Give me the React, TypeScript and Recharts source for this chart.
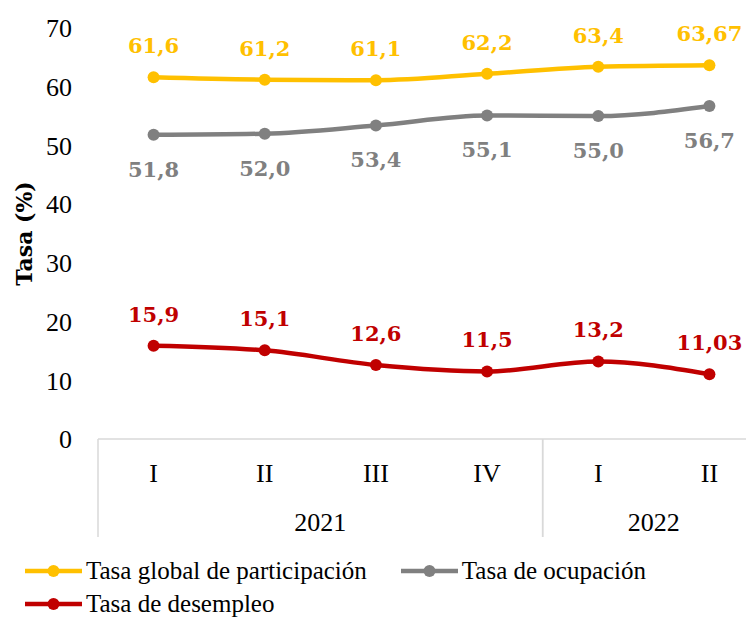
import React from 'react';
import { LineChart, Line, XAxis, YAxis, LabelList } from 'recharts';

// Quarterly labour-market rates (%)
const quarters = ['I', 'II', 'III', 'IV', 'I', 'II'];
const years = ['2021', '2021', '2021', '2021', '2022', '2022'];
const participacion = [61.6, 61.2, 61.1, 62.2, 63.4, 63.67];
const ocupacion = [51.8, 52.0, 53.4, 55.1, 55.0, 56.7];
const desempleo = [15.9, 15.1, 12.6, 11.5, 13.2, 11.03];
const yTicks = [0, 10, 20, 30, 40, 50, 60, 70];

const SERIES = [
  { key: 'participacion', name: 'Tasa global de participación', color: '#FFC000', labelPos: 'top', offset: 24 },
  { key: 'ocupacion', name: 'Tasa de ocupación', color: '#808080', labelPos: 'bottom', offset: 27 },
  { key: 'desempleo', name: 'Tasa de desempleo', color: '#C00000', labelPos: 'top', offset: 24 },
];

const data = quarters.map((q, i) => ({
  id: `${years[i]}-${q}`,
  quarter: q,
  year: years[i],
  participacion: participacion[i],
  ocupacion: ocupacion[i],
  desempleo: desempleo[i],
}));

const TICK_FONT = '"Liberation Serif", serif';
const LABEL_FONT = '"DejaVu Serif", serif';
const TICK_SIZE = 26;

// Excel style: one decimal, two when the source has them, decimal comma
const fmt = (v: number) => {
  const dec = Math.round(v * 10) === v * 10 ? 1 : 2;
  return v.toFixed(dec).replace('.', ',');
};

// Two-level category tick: quarter on top, year group underneath
const CategoryTick = ({ x, y, payload, index }: any) => {
  const i = payload?.index ?? index;
  const half = payload?.offset || 55.6;
  const year = years[i];
  const first = i === 0 || years[i - 1] !== year;
  const last = i === years.length - 1 || years[i + 1] !== year;
  const count = years.filter((yy) => yy === year).length;
  return (
    <g>
      <text
        x={x}
        y={y + 34}
        textAnchor="middle"
        dominantBaseline="central"
        fontFamily={TICK_FONT}
        fontSize={TICK_SIZE}
        fill="#000"
      >
        {quarters[i]}
      </text>
      {first && (
        <>
          <line x1={x - half} x2={x - half} y1={y} y2={y + 98} stroke="#D9D9D9" strokeWidth={1.5} />
          <text
            x={x - half + count * half}
            y={y + 83}
            textAnchor="middle"
            dominantBaseline="central"
            fontFamily={TICK_FONT}
            fontSize={TICK_SIZE}
            fill="#000"
          >
            {year}
          </text>
        </>
      )}
      {last && (
        <line x1={x + half} x2={x + half} y1={y} y2={y + 98} stroke="#D9D9D9" strokeWidth={1.5} />
      )}
    </g>
  );
};

const LegendMarker = ({ color }: { color: string }) => (
  <svg width={57} height={16} style={{ display: 'block' }}>
    <line x1={0} x2={57} y1={8} y2={8} stroke={color} strokeWidth={4.5} />
    <circle cx={28.5} cy={8} r={6} fill={color} />
  </svg>
);

export default function App() {
  return (
    <div
      style={{
        position: 'absolute',
        left: 0,
        top: 0,
        width: 746,
        height: 618,
        overflow: 'hidden',
        background: '#fff',
      }}
    >
      <LineChart
        width={800}
        height={618}
        data={data}
        margin={{ top: 28, right: 35, bottom: 0, left: 13 }}
      >
        <XAxis
          dataKey="id"
          scale="band"
          height={179}
          tickSize={0}
          tickMargin={0}
          tickLine={false}
          axisLine={{ stroke: '#D9D9D9', strokeWidth: 1.5 }}
          interval={0}
          tick={<CategoryTick />}
        />
        <YAxis
          domain={[0, 70]}
          ticks={yTicks}
          width={85}
          axisLine={false}
          tickLine={false}
          tickSize={0}
          tickMargin={26}
          tick={{ fontFamily: TICK_FONT, fontSize: TICK_SIZE, fill: '#000' }}
          label={{
            value: 'Tasa (%)',
            angle: -90,
            position: 'insideLeft',
            offset: 11,
            style: { fontFamily: LABEL_FONT, fontWeight: 'bold', fontSize: 22, fill: '#000', textAnchor: 'middle' },
          }}
        />
        {SERIES.map((s) => (
          <Line
            key={s.key}
            type="monotone"
            dataKey={s.key}
            name={s.name}
            stroke={s.color}
            strokeWidth={4.5}
            dot={{ r: 6, fill: s.color, stroke: s.color, strokeWidth: 0 }}
            activeDot={false}
            isAnimationActive={false}
          >
            <LabelList
              dataKey={s.key}
              position={s.labelPos as any}
              offset={s.offset}
              formatter={(v: any) => fmt(Number(v))}
              style={{ fontFamily: LABEL_FONT, fontWeight: 'bold', fontSize: 21, fill: s.color }}
            />
          </Line>
        ))}
      </LineChart>

      {/* Legend, laid out like the Excel one: wraps onto a second row */}
      <div
        style={{
          position: 'absolute',
          left: 25,
          top: 557,
          width: 700,
          display: 'flex',
          flexWrap: 'wrap',
          columnGap: 34,
          rowGap: 5,
          fontFamily: TICK_FONT,
          fontSize: 25,
          color: '#000',
        }}
      >
        {SERIES.map((s) => (
          <div key={s.key} style={{ display: 'flex', alignItems: 'center', height: 28, gap: 4 }}>
            <LegendMarker color={s.color} />
            <span style={{ whiteSpace: 'nowrap' }}>{s.name}</span>
          </div>
        ))}
      </div>
    </div>
  );
}
